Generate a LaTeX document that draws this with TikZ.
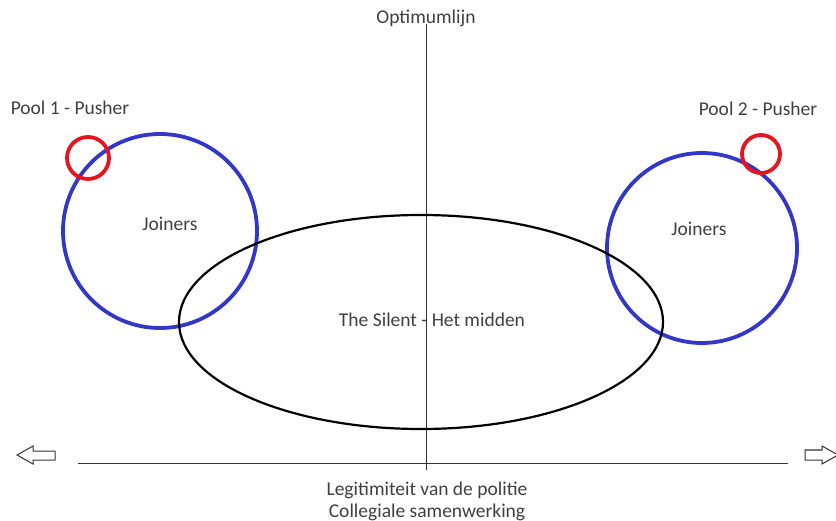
\documentclass[tikz,border=0pt]{standalone}
\usepackage{fontspec}
\setmainfont{Carlito}
\begin{document}
\begin{tikzpicture}[x=1pt,y=-1pt,
  lbl/.style={font=\fontsize{19.5}{23}\selectfont,text=black!75,inner sep=0pt},
  joiner/.style={draw={rgb,255:red,50;green,55;blue,200},line width=3.8pt},
  pusher/.style={draw={rgb,255:red,230;green,20;blue,30},line width=3.8pt},
  hollow/.style={draw=black!80,line width=1pt,line join=miter}]
\useasboundingbox (0,0) rectangle (836,521);
\node[lbl] (opt) at (426,18) {Optimumlijn};
\coordinate (vtop) at (426,24);
\coordinate (vbot) at (426,470);
\draw[black!80,line width=0.8pt] (vtop) -- (vbot);
\coordinate (hl) at (78,463);
\coordinate (hr) at (788,463);
\draw[black!80,line width=0.8pt] (hl) -- (hr);
\draw[hollow] (17,455) -- (33,446) -- (33,451) -- (55,451) -- (55,460) -- (33,460) -- (33,464) -- cycle;
\draw[hollow] (838,455) -- (822,446) -- (822,450) -- (805,450) -- (805,460) -- (822,460) -- (822,464) -- cycle;
\node[lbl] (p1) at (70,108) {Pool 1 - Pusher};
\node[lbl] (p2) at (758,109) {Pool 2 - Pusher};
\draw[joiner] (160,231) circle[radius=97];
\draw[joiner] (702,248) circle[radius=95];
\draw[pusher] (88,158) circle[radius=21];
\draw[pusher] (761,154) circle[radius=19];
\draw[black,line width=2.2pt] (421,322) ellipse[x radius=242,y radius=107];
\node[lbl] (j1) at (170,224) {Joiners};
\node[lbl] (j2) at (699,229) {Joiners};
\node[lbl] (silent) at (432,320) {The Silent - Het midden};
\node[lbl] (leg) at (427,490) {Legitimiteit van de politie};
\node[lbl] (col) at (427,512) {Collegiale samenwerking};
\end{tikzpicture}
\end{document}
